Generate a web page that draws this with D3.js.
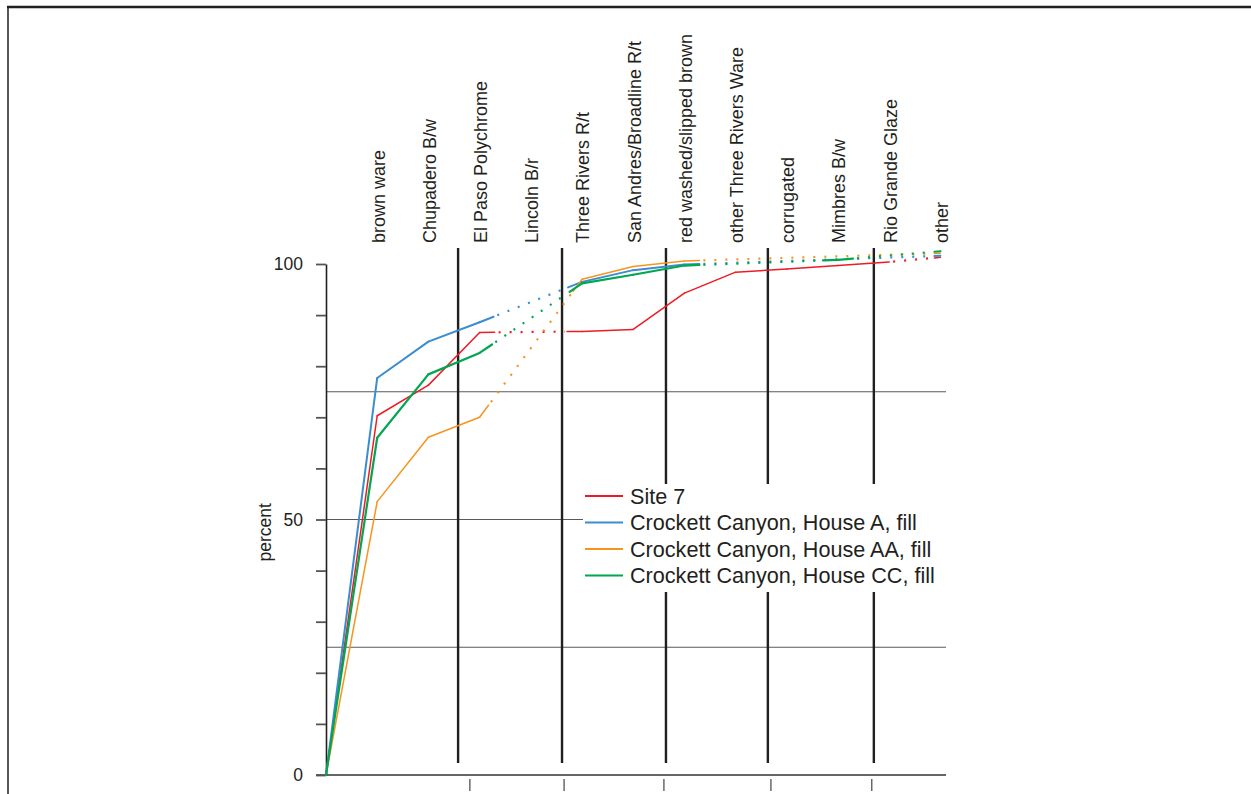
<!DOCTYPE html>
<html>
<head>
<meta charset="utf-8">
<script src="https://cdn.jsdelivr.net/npm/d3@7"></script>
<style>
  html, body { margin: 0; padding: 0; background: #fff; }
  svg { display: block; }
  text { font-family: "Liberation Sans", Arial, Helvetica, sans-serif; fill: #231f20; }
</style>
</head>
<body>
<svg id="chart" width="1251" height="794"></svg>
<script>
// Ceramic type categories, in cumulative order
const categories = [
  "brown ware", "Chupadero B/w", "El Paso Polychrome", "Lincoln B/r",
  "Three Rivers R/t", "San Andres/Broadline R/t", "red washed/slipped brown",
  "other Three Rivers Ware", "corrugated", "Mimbres B/w", "Rio Grande Glaze", "other"
];

const seriesNames = [
  "Site 7",
  "Crockett Canyon, House A, fill",
  "Crockett Canyon, House AA, fill",
  "Crockett Canyon, House CC, fill"
];

// Cumulative percent per category (null = type not present in the assemblage)
const site7   = [70.3, 76.3, 86.6, null, 86.8, 87.2, 94.3, 98.4, 99.0, 99.7, 100.4, 101.3];
const houseA  = [77.7, 84.8, 88.6, null, 96.5, 98.8, 99.9, null, null, null, null, 101.6];
const houseAA = [53.5, 66.1, 70.0, null, 97.0, 99.5, 100.6, null, null, null, null, 102.1];
const houseCC = [66.0, 78.4, 82.6, null, 96.2, 97.9, 99.7, null, null, 100.8, null, 102.5];

const seriesColors = ["#ed1c24", "#3b8dcf", "#f7941d", "#00a651"];
const seriesWidths = [1.5, 2, 1.5, 2.2];

// Y ticks and labelled values
const yTicks = [0, 10, 20, 30, 40, 50, 60, 70, 80, 90, 100];
const yTickLabels = [0, 50, 100];
const gridValues = [25, 50, 75];

// Group dividers and lower axis ticks, in category units (0 = origin)
const groupDividers = [2.58, 4.61, 6.64, 8.63, 10.70];
const lowerTicks = [2.81, 4.65, 6.60, 8.69, 10.66];

const svg = d3.select("#chart");

const x = d3.scaleLinear().domain([0, categories.length]).range([326, 940.4]);
const y = d3.scaleLinear().domain([0, 100]).range([775, 264]);

// Frame
svg.append("line").attr("x1", 7).attr("x2", 1251).attr("y1", 7).attr("y2", 7)
  .attr("stroke", "#231f20").attr("stroke-width", 2.5);
svg.append("line").attr("x1", 8).attr("x2", 8).attr("y1", 7).attr("y2", 794)
  .attr("stroke", "#231f20").attr("stroke-width", 1.5);

// Horizontal reference lines
svg.append("g").selectAll("line").data(gridValues).join("line")
  .attr("x1", x(0)).attr("x2", 946)
  .attr("y1", d => y(d)).attr("y2", d => y(d))
  .attr("stroke", "#5a5a5a").attr("stroke-width", 1.2);

// Baseline at zero
svg.append("line").attr("x1", 316).attr("x2", 946)
  .attr("y1", y(0)).attr("y2", y(0))
  .attr("stroke", "#666").attr("stroke-width", 2);

// Lower axis ticks
svg.append("g").selectAll("line").data(lowerTicks).join("line")
  .attr("x1", d => x(d)).attr("x2", d => x(d))
  .attr("y1", y(0) + 4).attr("y2", y(0) + 16)
  .attr("stroke", "#444").attr("stroke-width", 1.2);

// Group dividers
svg.append("g").selectAll("line").data(groupDividers).join("line")
  .attr("x1", d => x(d)).attr("x2", d => x(d))
  .attr("y1", 248).attr("y2", 763)
  .attr("stroke", "#231f20").attr("stroke-width", 2.4);

// Y axis
const yAxis = d3.axisLeft(y)
  .tickValues(yTicks)
  .tickSize(10)
  .tickSizeOuter(0)
  .tickPadding(13)
  .tickFormat(d => yTickLabels.includes(d) ? d : "");
const gy = svg.append("g").attr("transform", `translate(${x(0)},0)`).call(yAxis);
gy.select(".domain").attr("stroke", "#231f20").attr("stroke-width", 1.6);
gy.selectAll(".tick line").attr("stroke", "#555").attr("stroke-width", 1.8);
gy.selectAll(".tick text")
  .attr("font-size", 17.5).attr("fill", "#231f20")
  .style("font-family", "'Liberation Sans', Arial, sans-serif");

// Y axis title
svg.append("text")
  .attr("transform", `translate(265,${y(47.5)}) rotate(-90)`)
  .attr("text-anchor", "middle").attr("dy", "0.35em")
  .attr("font-size", 17.5)
  .text("percent");

// Category labels along the top
svg.append("g").selectAll("text").data(categories).join("text")
  .attr("transform", (d, i) => `translate(${x(i + 1) + 1},243) rotate(-90)`)
  .attr("text-anchor", "start")
  .attr("dy", "0.35em")
  .attr("font-size", 18)
  .text(d => d);

// Series lines
const allSeries = [site7, houseA, houseAA, houseCC];
const lastU = categories.length;
const gLines = svg.append("g");

allSeries.forEach((vals, si) => {
  const pts = [{ u: 0, v: 0 }];
  vals.forEach((v, i) => { if (v !== null) pts.push({ u: i + 1, v }); });
  const color = seriesColors[si];
  const sw = seriesWidths[si];

  const solid = (a, b) => gLines.append("line")
    .attr("x1", a[0]).attr("y1", a[1]).attr("x2", b[0]).attr("y2", b[1])
    .attr("stroke", color).attr("stroke-width", sw).attr("stroke-linecap", "round");
  const dotted = (a, b) => gLines.append("line")
    .attr("x1", a[0]).attr("y1", a[1]).attr("x2", b[0]).attr("y2", b[1])
    .attr("stroke", color).attr("stroke-width", 2.2)
    .attr("stroke-dasharray", "2 9");

  for (let k = 1; k < pts.length; k++) {
    const p = pts[k - 1], q = pts[k];
    const P = [x(p.u), y(p.v)], Q = [x(q.u), y(q.v)];
    const skip = q.u - p.u > 1;
    const last = q.u === lastU;
    if (!skip && !last) { solid(P, Q); continue; }
    const dx = Q[0] - P[0], dy = Q[1] - P[1];
    const L = Math.hypot(dx, dy);
    const ux = dx / L, uy = dy / L;
    const s0 = skip ? 15 : 0;
    const s1 = last ? 6 : 15;
    const A = [P[0] + ux * s0, P[1] + uy * s0];
    const B = [Q[0] - ux * s1, Q[1] - uy * s1];
    if (s0 > 0) solid(P, A);
    dotted([A[0] + ux * 4, A[1] + uy * 4], [B[0] - ux * 2, B[1] - uy * 2]);
    solid(B, Q);
  }
});

// Legend
const legend = svg.append("g");
legend.append("rect")
  .attr("x", 583).attr("y", 484).attr("width", 367).attr("height", 108)
  .attr("fill", "#fff");
const rowY = d3.scaleLinear().domain([0, 3]).range([496, 575.5]);
seriesNames.forEach((name, i) => {
  legend.append("line")
    .attr("x1", 585).attr("x2", 623)
    .attr("y1", rowY(i)).attr("y2", rowY(i))
    .attr("stroke", seriesColors[i]).attr("stroke-width", 1.8);
  legend.append("text")
    .attr("x", 630).attr("y", rowY(i)).attr("dy", "0.36em")
    .attr("font-size", 21.6)
    .text(name);
});
</script>
</body>
</html>
